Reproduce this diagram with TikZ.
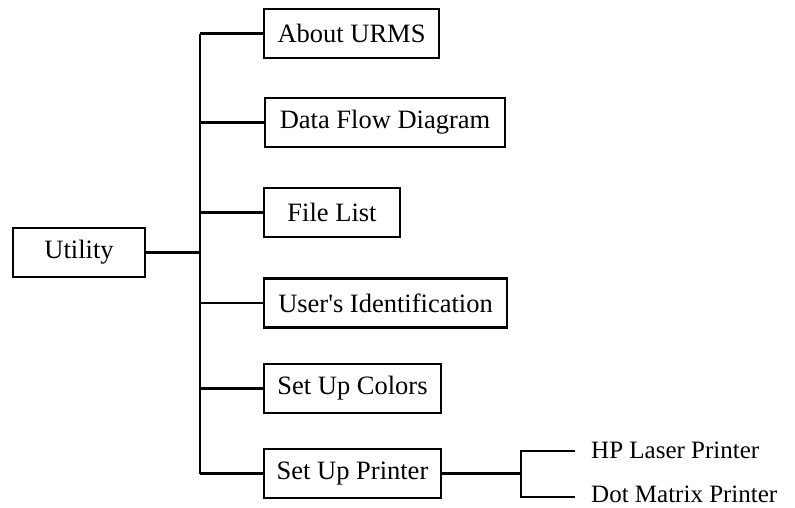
\documentclass[tikz,border=0pt]{standalone}
\usepackage{fontspec}
% plain family without TeX ligatures, so the apostrophe stays straight
\newfontfamily\menufont{Liberation Serif}
\begin{document}
\begin{tikzpicture}[x=1pt,y=-1pt,
  menubox/.style={draw=black,line width=2.6pt,minimum height=49pt,inner sep=0pt,
    font=\menufont\fontsize{26.5}{30}\selectfont,text=black},
  leaf/.style={anchor=base west,inner sep=0pt,font=\menufont\fontsize{25}{30}\selectfont,text=black},
  wire/.style={draw=black,line width=2.6pt}]
\useasboundingbox (0,0) rectangle (795,507);

% root and first-level menu items
\node[menubox,minimum width=132pt] (util)  at (79,252.5)  {Utility};
\node[menubox,minimum width=175pt] (about) at (351.5,33.5) {About URMS};
\node[menubox,minimum width=240pt] (dfd)   at (385,122.5)  {Data Flow Diagram};
\node[menubox,minimum width=136pt] (files) at (332,212.5)  {File List};
\node[menubox,minimum width=243pt] (ident) at (385.5,303)  {User's Identification};
\node[menubox,minimum width=177pt] (colors) at (352.5,388.5) {Set Up Colors};
\node[menubox,minimum width=177pt] (printer) at (352.5,473.5) {Set Up Printer};

% printer choices
\node[leaf] (hp)  at (591,458) {HP Laser Printer};
\node[leaf] (dot) at (591,502) {Dot Matrix Printer};

% trunk of the tree
\coordinate (trunk) at (200,0);
\draw[wire] (trunk |- about.west) -- (trunk |- printer.west);
\draw[wire] (util.east) -- (trunk |- util.east);
\foreach \n in {about,dfd,files,ident,colors,printer}
  \draw[wire] (trunk |- \n.west) -- (\n.west);

% branch to the printer choices
\coordinate (fork) at (521,0);
\coordinate (hpend) at (575,451);
\coordinate (dotend) at (575,497);
\draw[wire] (printer.east) -- (fork |- printer.east);
\draw[wire] (hpend) -- (fork |- hpend) -- (fork |- dotend) -- (dotend);
\end{tikzpicture}
\end{document}
